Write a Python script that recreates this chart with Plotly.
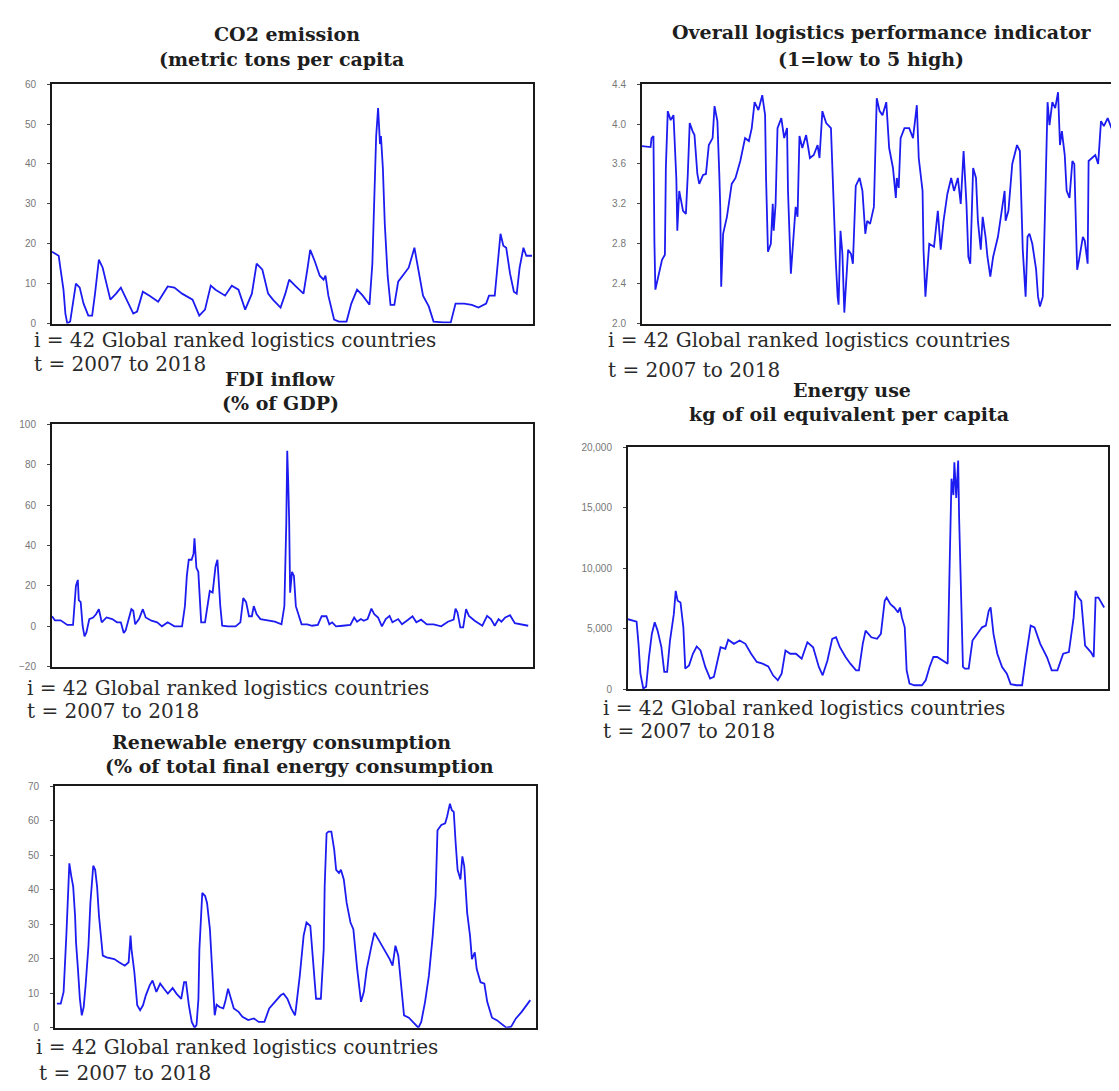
import plotly.graph_objects as go

# ---------------- DATA (observation index of the stacked panel, value) ----------------
co2_obs = [1, 8, 10, 13, 15, 17, 20, 23, 26, 30, 34, 39, 43, 46, 50, 54, 58, 62, 68, 73, 79, 86, 90, 96,
           103, 112, 122, 129, 137, 148, 155, 161, 167, 172, 182, 189, 196, 203, 210, 215, 221, 227, 232,
           240, 245, 249, 256, 264, 268, 271, 276, 281, 285, 287, 290, 296, 301, 309, 314, 320, 326, 333,
           336, 338, 340, 342, 344, 345, 347, 349, 352, 355, 359, 363, 369, 374, 380, 384, 389, 395, 400,
           410, 418, 423, 432, 440, 447, 455, 458, 464, 468, 470, 473, 476, 480, 484, 487, 490, 494, 497, 503]
co2_val = [18, 17, 13.5, 8.5, 2.5, 0, 0.5, 5, 10, 9, 5, 2, 2, 7.5, 16, 14, 10, 6, 7.5, 9, 6, 2.5, 3, 8,
           7, 5.5, 9.3, 9, 7.5, 6, 2, 3.5, 9.5, 8.5, 7, 9.5, 8.5, 3.5, 7.5, 15, 13.5, 7.5, 6,
           4, 7.5, 11, 9.3, 7.5, 13.5, 18.5, 15.5, 12, 11, 12, 7, 1, 0.5, 0.5, 5, 8.5, 7, 4.7,
           15, 31, 47, 54, 45, 47, 39, 25, 12, 4.7, 4.7, 10.5, 12.5, 14, 19, 13.5, 7, 4.3, 0.5,
           0.3, 0.3, 5, 5, 4.7, 4, 5, 7, 7, 16.5, 22.5, 19.5, 19, 12.5, 8, 7.5, 14, 19, 17, 17]

lpi_obs = [1, 10, 11, 13, 14, 15, 18, 22, 25, 26, 28, 31, 34, 37, 38, 40, 44, 47, 49, 51, 54, 56, 59, 61,
           65, 68, 71, 75, 77, 80, 82, 83, 84, 86, 90, 95, 99, 104, 109, 113, 116, 119, 123, 127, 130,
           131, 133, 136, 138, 139, 141, 143, 147, 150, 153, 154, 157, 159, 162, 164, 166, 169, 173, 177,
           181, 185, 187, 190, 194, 199, 201, 204, 206, 207, 209, 211, 213, 215, 217, 220, 222, 225, 229,
           232, 235, 237, 240, 244, 247, 250, 253, 257, 260, 264, 267, 268, 270, 272, 276, 281, 285, 289,
           291, 295, 296, 298, 302, 307, 311, 314, 317, 321, 325, 328, 332, 335, 338, 341, 343, 345, 348,
           351, 353, 356, 358, 361, 363, 366, 369, 374, 379, 381, 382, 385, 389, 394, 397, 400, 403, 405,
           407, 410, 414, 416, 418, 421, 423, 426, 428, 431, 434, 437, 439, 441, 444, 446, 449, 452, 454,
           457, 459, 463, 465, 468, 469, 472, 476, 479, 482, 485, 489, 493, 497, 500]
lpi_val = [3.78, 3.77, 3.86, 3.88, 2.82, 2.34, 2.47, 2.64, 2.69, 3.56, 4.13, 4.04, 4.09, 3.45, 2.93, 3.33,
           3.13, 3.10, 3.50, 4.01, 3.93, 3.89, 3.50, 3.40, 3.49, 3.50, 3.79, 3.86, 4.18, 4.03, 3.50, 3.17,
           2.37, 2.90, 3.07, 3.40, 3.46, 3.63, 3.86, 3.83, 3.96, 4.22, 4.14, 4.29, 4.09, 3.46, 2.72, 2.80,
           3.20, 2.93, 3.20, 3.96, 4.06, 3.86, 3.96, 3.33, 2.50, 2.74, 3.17, 3.07, 3.88, 3.76, 3.89, 3.66,
           3.69, 3.79, 3.66, 4.13, 4.01, 3.96, 3.37, 2.64, 2.27, 2.19, 2.93, 2.70, 2.11, 2.40, 2.74, 2.70,
           2.60, 3.38, 3.46, 3.33, 2.90, 3.03, 3.00, 3.17, 4.26, 4.13, 4.09, 4.22, 3.76, 3.56, 3.26, 3.46,
           3.36, 3.86, 3.96, 3.96, 3.86, 4.19, 3.66, 3.33, 2.74, 2.27, 2.80, 2.77, 3.13, 2.74, 3.03, 3.30,
           3.46, 3.33, 3.46, 3.20, 3.73, 3.20, 2.67, 2.60, 3.56, 3.46, 3.03, 2.74, 3.07, 2.87, 2.67, 2.47,
           2.67, 2.87, 3.20, 3.33, 3.03, 3.13, 3.60, 3.79, 3.73, 2.74, 2.27, 2.87, 2.90, 2.80, 2.54, 2.27,
           2.17, 2.27, 3.00, 4.22, 3.99, 4.22, 4.16, 4.32, 3.79, 3.93, 3.69, 3.33, 3.26, 3.63, 3.60, 2.54,
           2.64, 2.87, 2.83, 2.60, 3.63, 3.66, 3.69, 3.60, 4.03, 3.98, 4.06, 3.96, 4.01, 3.99]

fdi_obs = [1, 4, 10, 17, 23, 25, 26, 28, 29, 31, 33, 35, 37, 40, 44, 47, 50, 53, 58, 64, 69, 73, 76, 78,
           81, 84, 86, 88, 92, 96, 99, 105, 111, 116, 122, 129, 137, 140, 142, 144, 147, 149, 150, 152,
           154, 155, 157, 161, 163, 166, 169, 170, 172, 174, 175, 177, 179, 185, 193, 198, 201, 204, 207,
           210, 212, 215, 219, 227, 234, 241, 244, 246, 247, 248, 249, 250, 252, 254, 256, 258, 262, 268,
           273, 279, 283, 288, 291, 294, 298, 305, 313, 317, 320, 324, 327, 331, 335, 338, 342, 346, 350,
           354, 357, 363, 367, 372, 378, 382, 387, 393, 400, 408, 415, 421, 423, 425, 428, 431, 434, 437,
           443, 451, 456, 460, 464, 468, 471, 475, 480, 485, 492, 499]
fdi_val = [5, 3, 3, 0.7, 0.7, 14, 20, 23, 13, 12, 0.3, -5, -3, 3.6, 4.4, 6, 8.5, 2, 4.4, 3.6, 2, 2, -3.3,
           -2, 3.6, 8.5, 7.7, 1, 3.6, 8.5, 4.4, 2.8, 2, 0, 2, 0, 0, 10, 25, 33, 33, 36, 43.6, 29, 27, 16.7,
           2, 2, 8.5, 17.5, 16.7, 21.5, 29.7, 33, 23, 10, 0.3, 0, 0, 2, 14, 12, 5, 5, 10, 6, 3.6, 2.8,
           2.3, 1, 10, 51, 87, 72, 52.6, 16.7, 27, 25, 10, 7, 1, 1, 0.3, 0.7, 5, 5, 1, 2, 0, 0.3, 0.7,
           4.4, 2.3, 3.6, 2.8, 3.6, 8.8, 6, 4.4, 0, 3.6, 5.2, 2, 3.6, 1, 2.8, 5, 2, 3.3, 1, 1, 0, 2.3,
           3.3, 8.8, 6.9, -0.5, -0.5, 8.5, 5.2, 2.8, 0.3, 5.2, 3.6, 0.3, 3.6, 2.3, 4.4, 5.5, 1.6, 1, 0.3]

energy_obs = [1, 10, 12, 14, 17, 20, 23, 26, 29, 32, 36, 39, 42, 45, 49, 51, 53, 56, 59, 61, 65, 69, 73,
              77, 82, 87, 91, 95, 98, 103, 106, 112, 118, 124, 130, 136, 142, 148, 153, 158, 162, 166,
              171, 177, 183, 189, 195, 201, 205, 210, 215, 219, 223, 229, 234, 240, 243, 247, 250, 256,
              262, 266, 270, 272, 276, 280, 284, 286, 288, 291, 293, 296, 301, 309, 313, 317, 321, 325,
              331, 336, 338, 340, 342, 343, 345, 347, 348, 350, 352, 354, 358, 362, 367, 372, 376, 379,
              381, 384, 388, 393, 398, 402, 408, 414, 418, 423, 427, 433, 440, 445, 451, 457, 463, 468,
              470, 473, 476, 480, 486, 489, 491, 494, 500]
energy_val = [5800, 5600, 3770, 1300, 80, 220, 2700, 4600, 5550, 4860, 3500, 1450, 1450, 4040, 6220, 8140,
              7320, 7180, 5130, 1720, 1990, 2950, 3550, 3220, 1860, 900, 1040, 2540, 3490, 3360, 4100,
              3770, 4040, 3770, 2950, 2270, 2130, 1910, 1170, 760, 1310, 3220, 2950, 2950, 2540, 3900,
              3490, 1860, 1170, 2400, 4180, 4310, 3490, 2680, 2130, 1580, 1580, 3770, 4860, 4310, 4180,
              4590, 7320, 7590, 7040, 6770, 6360, 6770, 5950, 5130, 1580, 490, 350, 350, 760, 1860, 2680,
              2680, 2400, 2130, 10050, 17400, 16050, 18750, 15800, 18900, 14140, 8410, 1860, 1720, 1720,
              4040, 4590, 5130, 5270, 6500, 6770, 4590, 2950, 1860, 1310, 440, 350, 350, 2680, 5270, 5130,
              3770, 2680, 1580, 1580, 2950, 3090, 5950, 8140, 7590, 7320, 3630, 3090, 2680, 7590, 7590, 6770]

ren_obs = [3, 7, 10, 11, 13, 15, 16, 18, 20, 22, 23, 25, 27, 29, 31, 33, 36, 38, 40, 41, 43, 45, 47, 50,
           51, 55, 63, 68, 74, 78, 80, 81, 84, 87, 90, 93, 96, 100, 103, 107, 111, 115, 119, 124, 128,
           133, 136, 138, 141, 144, 147, 149, 151, 152, 155, 158, 160, 163, 166, 168, 170, 173, 177, 179,
           182, 185, 188, 193, 197, 203, 209, 214, 220, 225, 231, 237, 240, 244, 248, 252, 253, 257, 261,
           264, 268, 270, 272, 274, 279, 282, 283, 285, 287, 290, 293, 295, 298, 300, 303, 306, 310, 313,
           317, 321, 324, 327, 332, 335, 339, 345, 351, 354, 357, 360, 363, 366, 371, 377, 381, 384, 388,
           392, 396, 399, 401, 405, 409, 411, 414, 416, 418, 420, 422, 425, 427, 429, 432, 435, 437, 440,
           442, 446, 450, 453, 458, 463, 468, 473, 478, 483, 489, 498]
ren_val = [7, 7, 10.4, 15, 27.6, 41, 47.7, 44, 41, 32.4, 24.7, 17, 8.4, 3.6, 6, 12.3, 23.8, 36.2, 42, 47,
           45.8, 41, 32.4, 22.8, 20.9, 20.4, 19.9, 19, 18, 19, 26.7, 22.8, 16.1, 6.5, 5.1, 6.5, 9.4, 12.3,
           13.7, 10.4, 12.8, 11.3, 9.9, 11.5, 9.9, 8.4, 13.2, 13.2, 6.5, 1.7, 0, 0.8, 8.4, 22.8, 39.1,
           38.2, 36.2, 28.6, 15.1, 3.6, 6.7, 6, 5.6, 7.5, 11.3, 8.4, 5.6, 4.6, 3.2, 2.2, 2.7, 1.7, 1.7,
           5.6, 7.5, 9.4, 9.9, 8.4, 5.6, 3.6, 5.6, 15.1, 26.7, 30.5, 29.5, 21.9, 14.2, 8.4, 8.4, 22.8,
           41, 56.4, 56.9, 56.9, 51.6, 45.8, 44.9, 45.8, 43, 36.2, 30.5, 28.6, 17, 7.5, 10.4, 17, 23.8,
           27.6, 25.7, 22.8, 19.9, 18, 23.8, 20.9, 13.2, 3.6, 2.9, 1, 0, 1.7, 7.5, 15.1, 26.7, 38.2, 57.3,
           58.8, 59.3, 61.2, 65, 63.1, 62.6, 53.5, 45.8, 43, 49.7, 46.8, 33.4, 26.7, 19.9, 21.9, 17, 13.2,
           12.8, 7.5, 2.9, 2.2, 1.2, 0, 0.3, 2.7, 4.6, 8]

co2_ticks = [0, 10, 20, 30, 40, 50, 60]
lpi_ticks = [2.0, 2.4, 2.8, 3.2, 3.6, 4.0, 4.4]
fdi_ticks = [-20, 0, 20, 40, 60, 80, 100]
energy_ticks = [0, 5000, 10000, 15000, 20000]
ren_ticks = [0, 10, 20, 30, 40, 50, 60, 70]

titles = [
    ("CO2 emission", "(metric tons per capita"),
    ("Overall logistics performance indicator", "(1=low to 5 high)"),
    ("FDI inflow", "(% of GDP)"),
    ("Energy use", "kg of oil equivalent per capita"),
    ("Renewable energy consumption", "(% of total final energy consumption"),
]
note_i = "i = 42 Global ranked logistics countries"
note_t = "t = 2007 to 2018"

# ---------------- LAYOUT ----------------
W, H = 1119, 1091
OFF = 8  # the page body adds an 8px margin around the figure
def fx(x):
    return (x - OFF) / W
def fy(y):
    return 1 - (y - OFF) / H

LINE = "#1c1cf0"
BORDER = "#1a1a1a"

# panel boxes in reference pixels: left, right, top, bottom
panels = [
    dict(obs=co2_obs, val=co2_val, ticks=co2_ticks, rng=[0, 60], xr=[1, 504], fmt="d",
         box=(52, 533, 79, 321)),
    dict(obs=lpi_obs, val=lpi_val, ticks=lpi_ticks, rng=[2.0, 4.4], xr=[1, 504], fmt=".1f",
         box=(642, 1122, 79, 321)),
    dict(obs=fdi_obs, val=fdi_val, ticks=fdi_ticks, rng=[-20, 100], xr=[1, 504], fmt="d",
         box=(52, 533, 423, 668)),
    dict(obs=energy_obs, val=energy_val, ticks=energy_ticks, rng=[0, 20000], xr=[1, 504], fmt=",d",
         box=(628, 1108, 446, 691)),
    dict(obs=ren_obs, val=ren_val, ticks=ren_ticks, rng=[0, 70], xr=[1, 504], fmt="d",
         box=(55, 536, 789, 1033)),
]

# (center x line1, y line1, center x line2, y line2)
title_pos = [(287, 28, 281, 54), (882, 26, 871, 53), (280, 377, 280, 401),
             (852, 388, 849, 412), (281, 744, 299, 768)]
# (x line1, y line1, x line2, y line2)
note_pos = [(32, 338, 32, 362), (606, 338, 606, 368), (25, 690, 25, 713),
            (601, 710, 601, 733), (34, 1052, 37, 1079)]

fig = go.Figure()
layout = dict(width=W, height=H, margin=dict(l=0, r=0, t=0, b=0),
              paper_bgcolor="white", plot_bgcolor="white", showlegend=False)
annotations = []

TITLE_FONT = dict(family="DejaVu Serif", size=19, color="#1e1e1e", weight="bold")
NOTE_FONT = dict(family="DejaVu Serif", size=20, color="#2a2a2a")

for k, p in enumerate(panels):
    n = k + 1
    xa = "xaxis" if n == 1 else f"xaxis{n}"
    ya = "yaxis" if n == 1 else f"yaxis{n}"
    xref = "x" if n == 1 else f"x{n}"
    yref = "y" if n == 1 else f"y{n}"
    l, r, t, b = p["box"]
    fig.add_trace(go.Scatter(x=p["obs"], y=p["val"], mode="lines",
                             line=dict(color=LINE, width=1.8),
                             xaxis=xref, yaxis=yref, hoverinfo="skip"))
    layout[xa] = dict(domain=[fx(l), min(fx(r), 1.0)], range=p["xr"], anchor=yref,
                      showgrid=False, zeroline=False, showticklabels=False, ticks="",
                      showline=True, linecolor=BORDER, linewidth=2, mirror=True)
    layout[ya] = dict(domain=[fy(b), fy(t)], range=p["rng"], anchor=xref,
                      showgrid=False, zeroline=False, tickvals=p["ticks"], tickformat=p["fmt"],
                      ticks="outside", ticklen=3, tickcolor="#444444", tickwidth=1,
                      ticklabelstandoff=9,
                      tickfont=dict(family="Liberation Sans", size=10, color="#777777"),
                      showline=True, linecolor=BORDER, linewidth=2, mirror=True)

    t1, t2 = titles[k]
    cx1, y1, cx2, y2 = title_pos[k]
    annotations.append(dict(text=t1, x=fx(cx1), y=fy(y1), xref="paper", yref="paper",
                            xanchor="center", yanchor="middle", showarrow=False, font=TITLE_FONT))
    annotations.append(dict(text=t2, x=fx(cx2), y=fy(y2), xref="paper", yref="paper",
                            xanchor="center", yanchor="middle", showarrow=False, font=TITLE_FONT))
    nx1, ny1, nx2, ny2 = note_pos[k]
    annotations.append(dict(text=note_i, x=fx(nx1), y=fy(ny1), xref="paper", yref="paper",
                            xanchor="left", yanchor="middle", showarrow=False, font=NOTE_FONT))
    annotations.append(dict(text=note_t, x=fx(nx2), y=fy(ny2), xref="paper", yref="paper",
                            xanchor="left", yanchor="middle", showarrow=False, font=NOTE_FONT))

layout["annotations"] = annotations
fig.update_layout(**layout)
fig.write_html("out.html")
